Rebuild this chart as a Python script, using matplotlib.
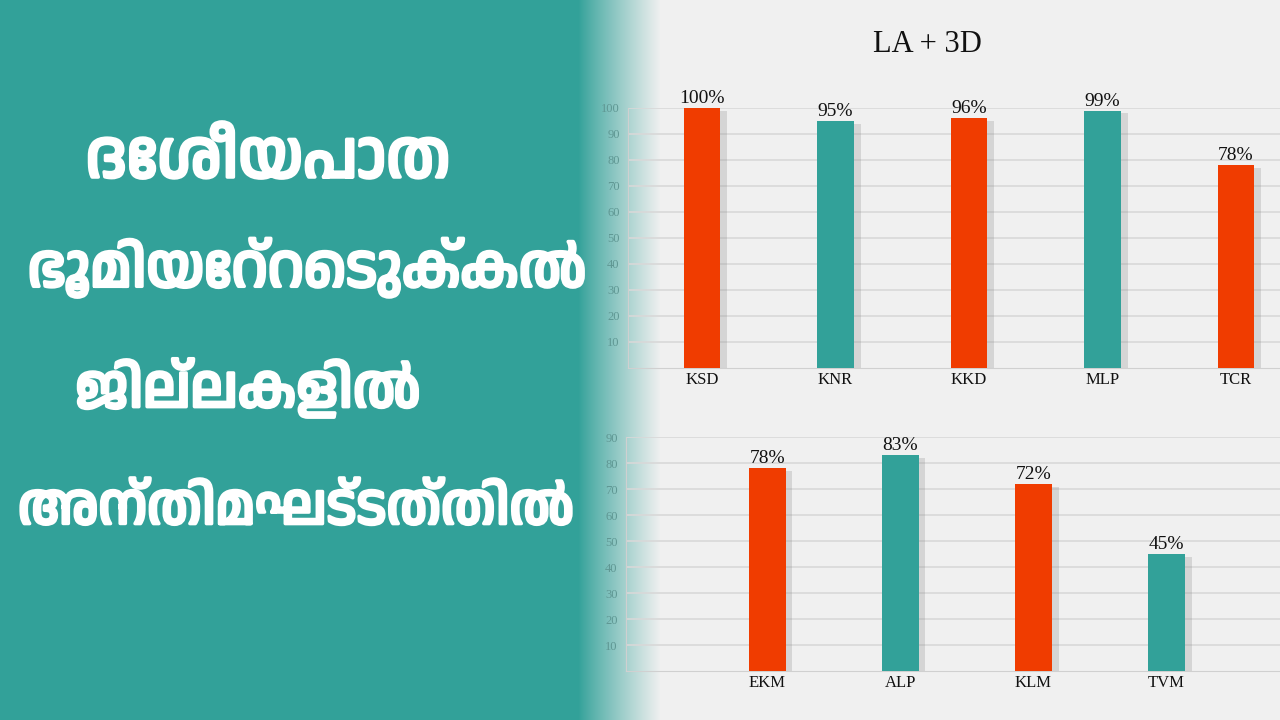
import numpy as np
import matplotlib
matplotlib.use("Agg")
import matplotlib.pyplot as plt
import matplotlib.patheffects as pe
from matplotlib import font_manager
from matplotlib.ft2font import FT2Font

# data
top_districts = ["KSD", "KNR", "KKD", "MLP", "TCR"]
top_values = [100, 95, 96, 99, 78]
top_labels = ["100%", "95%", "96%", "99%", "78%"]

bottom_districts = ["EKM", "ALP", "KLM", "TVM"]
bottom_values = [78, 83, 72, 45]
bottom_labels = ["78%", "83%", "72%", "45%"]

headline = ["ദേശീയപാത", "ഭൂമിയേറ്റെടുക്കൽ", "ജില്ലകളിൽ", "അന്തിമഘട്ടത്തിൽ"]
title = "LA + 3D"

ORANGE = "#f03c00"
TEAL = "#32a199"
BG = "#f0f0f0"
SERIF = ["Liberation Serif", "DejaVu Serif"]


def find_malayalam_font():
    # prefer a real outline font over unifont-style bitmap ones
    found = []
    for f in font_manager.fontManager.ttflist:
        try:
            if 0x0D2E in FT2Font(f.fname).get_charmap():
                found.append(f.name)
        except Exception:
            pass
    if not found:
        return None
    good = [n for n in found if "unifont" not in n.lower()]
    pref = [n for n in good if "malayalam" in n.lower()]
    if pref:
        return pref[0]
    if good:
        return good[0]
    return found[0]


mal = find_malayalam_font()
mal_family = [mal, "DejaVu Sans"] if mal else ["DejaVu Sans"]

fig = plt.figure(figsize=(12.8, 7.2), dpi=100)

# background: teal panel fading into light grey
bg_ax = fig.add_axes([0, 0, 1, 1], zorder=0)
xs = np.arange(1280)
teal_rgb = np.array(matplotlib.colors.to_rgb(TEAL))
bg_rgb = np.array(matplotlib.colors.to_rgb(BG))
t = np.clip((xs - 578) / 82.0, 0, 1) ** 0.9
row = teal_rgb[None, :] * (1 - t[:, None]) + bg_rgb[None, :] * t[:, None]
bg_ax.imshow(row[None, :, :], aspect="auto", extent=[0, 1, 0, 1])
bg_ax.set_axis_off()

shadow = [pe.SimplePatchShadow(offset=(5, -2), shadow_rgbFace="#888888", alpha=0.25), pe.Normal()]


def draw_chart(rect, names, values, labels, top, xlim):
    ax = fig.add_axes(rect, zorder=2)
    ax.patch.set_alpha(0)
    colors = [ORANGE if i % 2 == 0 else TEAL for i in range(len(names))]
    bars = ax.bar(range(len(names)), values, width=0.275, color=colors, zorder=3)
    for b in bars:
        b.set_path_effects(shadow)
    for b, lab in zip(bars, labels):
        ax.text(b.get_x() + b.get_width() / 2, b.get_height() + 0.4, lab,
                ha="center", va="bottom", fontsize=14, family=SERIF, color="#111111", zorder=4)
    ax.set_ylim(0, top)
    ax.set_xlim(*xlim)
    ax.set_yticks(range(10, top + 1, 10))
    ax.yaxis.grid(True, color="#d8d8d8", lw=1.2, zorder=0)
    ax.set_axisbelow(True)
    ax.set_xticks(range(len(names)))
    ax.set_xticklabels(names, family=SERIF, fontsize=12, color="#111111")
    for lab in ax.get_yticklabels():
        lab.set_family(SERIF)
        lab.set_fontsize(9)
        lab.set_color("#5f9793")
    ax.tick_params(axis="both", length=0)
    ax.tick_params(axis="x", pad=3)
    ax.tick_params(axis="y", pad=6)
    for s in ["top", "right"]:
        ax.spines[s].set_visible(False)
    ax.spines["left"].set_color("#d0d0d0")
    ax.spines["bottom"].set_color("#d0d0d0")
    return ax


draw_chart([628 / 1280, 1 - 368 / 720, 652 / 1280, 260 / 720],
           top_districts, top_values, top_labels, 100, (-0.555, 4.33))
draw_chart([626 / 1280, 1 - 671 / 720, 654 / 1280, 234 / 720],
           bottom_districts, bottom_values, bottom_labels, 90, (-1.062, 3.855))

fig.text(927 / 1280, 1 - 45 / 720, title, ha="center", va="center",
         fontsize=22, family=SERIF, color="#111111", zorder=5)

# headline on the teal panel
thick = [pe.withStroke(linewidth=2.5, foreground="white")]
line_pos = [(268, 160), (307, 268), (248, 388), (296, 510)]
line_size = [47, 42, 42, 40]
for txt, (x, y), fs in zip(headline, line_pos, line_size):
    fig.text(x / 1280, 1 - y / 720, txt, ha="center", va="center",
             fontsize=fs, fontweight="bold", color="white", family=mal_family,
             path_effects=thick, zorder=5)

fig.savefig("out.png", dpi=100)
